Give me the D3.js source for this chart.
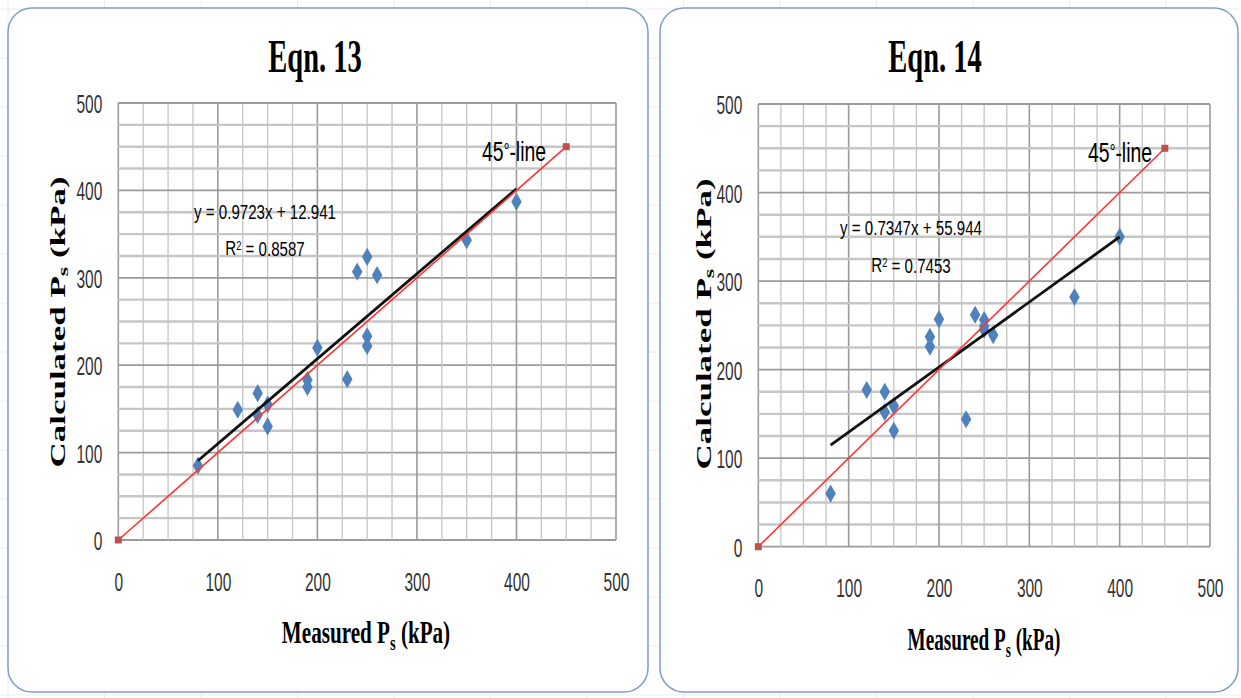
<!DOCTYPE html>
<html>
<head>
<meta charset="utf-8">
<script src="https://cdn.jsdelivr.net/npm/d3@7"></script>
<style>
  html, body { margin: 0; padding: 0; background: #fff; }
  svg { display: block; }
</style>
</head>
<body>
<div id="chart"></div>
<script>
// measured vs calculated Ps (kPa)
const measured   = [80, 120, 140, 140, 150, 150, 190, 190, 200, 230, 240, 250, 250, 250, 260, 350, 400];
const calcEqn13  = [85, 149, 168, 143, 155, 130, 183, 175, 220, 184, 307, 324, 233, 222, 303, 343, 387];
const calcEqn14  = [60, 177, 175, 152, 159, 131, 237, 226, 257, 144, 262, 256, 249, 245, 239, 282, 350];

// excel linear trendlines
const trend13 = { slope: 0.9723, intercept: 12.941, r2: '0.8587' };
const trend14 = { slope: 0.7347, intercept: 55.944, r2: '0.7453' };

const line45 = [0, 450];
const tickValues = [0, 100, 200, 300, 400, 500];
const minorStep = 25;

const W = 1241, H = 698;
const svg = d3.select('#chart').append('svg').attr('width', W).attr('height', H);

// faint spreadsheet cells behind the chart objects
const bg = svg.append('g');
d3.range(8, 1240, 96.5).forEach(x => bg.append('line').attr('x1', x).attr('x2', x).attr('y1', 0).attr('y2', H).attr('stroke', '#ececec'));
d3.range(9, H, 49).forEach(y => bg.append('line').attr('x1', 0).attr('x2', 1240).attr('y1', y).attr('y2', y).attr('stroke', '#ececec'));

// helper: horizontally squeezed text (source picture is compressed sideways)
function label(parent, x, y, sx, opts) {
  const g = parent.append('g').attr('transform', `translate(${x},${y}) scale(${sx},1)`);
  const t = g.append('text')
    .attr('text-anchor', opts.anchor || 'middle')
    .style('font-family', opts.family)
    .style('font-size', opts.size + 'px')
    .style('font-weight', opts.weight || 'normal')
    .attr('fill', opts.fill || '#000');
  return t;
}

const serif = '"Liberation Serif", "Times New Roman", serif';
const sans = '"Liberation Sans", Arial, sans-serif';

const panels = [
  {
    title: 'Eqn. 13', calc: calcEqn13, trend: trend13,
    box: { x: 8, y: 8, w: 640, h: 684 },
    plot: { l: 118.3, r: 616, t: 103, b: 540 },
    titleX: 315, ylabX: 57, ylabY: 322, xlabX: 366, xlabY: 643, xlabS: 0.66,
    eqX: 265, eqY: 212, r2Y: 248, tagX: 482, tagY: 152
  },
  {
    title: 'Eqn. 14', calc: calcEqn14, trend: trend14,
    box: { x: 660, y: 8, w: 578, h: 684 },
    plot: { l: 758.3, r: 1210, t: 104, b: 546.7 },
    titleX: 935, ylabX: 703, ylabY: 324, xlabX: 984, xlabY: 650, xlabS: 0.6,
    eqX: 911, eqY: 228, r2Y: 265, tagX: 1088, tagY: 153
  }
];

panels.forEach(p => {
  const g = svg.append('g');

  g.append('rect')
    .attr('x', p.box.x).attr('y', p.box.y)
    .attr('width', p.box.w).attr('height', p.box.h)
    .attr('rx', 24).attr('ry', 24)
    .attr('fill', '#fff')
    .attr('stroke', '#7f9dc9').attr('stroke-width', 1.5);

  const x = d3.scaleLinear().domain([0, 500]).range([p.plot.l, p.plot.r]);
  const y = d3.scaleLinear().domain([0, 500]).range([p.plot.b, p.plot.t]);

  // grid
  const grid = g.append('g');
  d3.range(0, 501, minorStep).forEach(v => {
    const major = v % 100 === 0;
    grid.append('line')
      .attr('x1', x(v)).attr('x2', x(v)).attr('y1', y(0)).attr('y2', y(500))
      .attr('stroke', major ? '#9b9b9b' : '#c4c4c4')
      .attr('stroke-width', major ? 1.6 : 1.3);
    grid.append('line')
      .attr('x1', x(0)).attr('x2', x(500)).attr('y1', y(v)).attr('y2', y(v))
      .attr('stroke', major ? '#9b9b9b' : '#c6c6c6')
      .attr('stroke-width', major ? 1.8 : 2.4);
  });

  // axes (labels only)
  const tickSx = 0.62;
  const gx = g.append('g').attr('transform', `translate(0,${p.plot.b})`)
    .call(d3.axisBottom(x).tickValues(tickValues).tickSize(0).tickPadding(33));
  const gy = g.append('g').attr('transform', `translate(${p.plot.l},0)`)
    .call(d3.axisLeft(y).tickValues(tickValues).tickSize(0));
  [gx, gy].forEach(a => {
    a.select('.domain').remove();
    a.selectAll('text')
      .style('font-family', sans).style('font-size', '25px')
      .attr('fill', '#333')
      .attr('transform', `scale(${tickSx},1)`);
  });
  gy.selectAll('text').attr('x', -16 / tickSx).attr('dy', '0.38em');

  // points
  const sym = d3.symbol().type(d3.symbolDiamond).size(95);
  g.append('g').selectAll('path')
    .data(measured.map((m, i) => [m, p.calc[i]]))
    .join('path')
    .attr('d', sym)
    .attr('transform', d => `translate(${x(d[0])},${y(d[1])})`)
    .attr('fill', '#4f81bd');

  // trendline
  const xr = d3.extent(measured);
  g.append('path')
    .datum(xr.map(v => [v, p.trend.slope * v + p.trend.intercept]))
    .attr('d', d3.line().x(d => x(d[0])).y(d => y(d[1])))
    .attr('stroke', '#111').attr('stroke-width', 2.8).attr('fill', 'none');

  // 45 degree line
  g.append('path')
    .datum(line45.map(v => [v, v]))
    .attr('d', d3.line().x(d => x(d[0])).y(d => y(d[1])))
    .attr('stroke', '#ff3333').attr('stroke-width', 1.6).attr('fill', 'none');
  g.append('g').selectAll('rect')
    .data(line45)
    .join('rect')
    .attr('x', d => x(d) - 3.5).attr('y', d => y(d) - 3.5)
    .attr('width', 7).attr('height', 7)
    .attr('fill', '#c0504d');

  // texts
  label(g, p.titleX, 72, 0.62, { family: serif, size: 46, weight: 'bold' }).text(p.title);

  const yl = g.append('g').attr('transform', `translate(${p.ylabX},${p.ylabY}) scale(0.62,1) rotate(-90)`)
    .append('text').attr('text-anchor', 'middle').attr('dy', '0.35em')
    .style('font-family', serif).style('font-size', '35px').style('font-weight', 'bold');
  yl.append('tspan').text('Calculated  P');
  yl.append('tspan').attr('dy', '0.25em').style('font-size', '24px').text('s');
  yl.append('tspan').attr('dy', '-0.17em').text(' (kPa)');

  const xl = label(g, p.xlabX, p.xlabY, p.xlabS, { family: serif, size: 32, weight: 'bold' });
  xl.append('tspan').text('Measured P');
  xl.append('tspan').attr('dy', '0.3em').style('font-size', '22px').text('s');
  xl.append('tspan').attr('dy', '-0.2em').text(' (kPa)');

  label(g, p.eqX, p.eqY, 0.72, { family: sans, size: 21 }).attr('dy', '0.35em')
    .text(`y = ${p.trend.slope}x + ${p.trend.intercept}`);
  const r2 = label(g, p.eqX, p.r2Y, 0.72, { family: sans, size: 21 }).attr('dy', '0.35em');
  r2.append('tspan').text('R');
  r2.append('tspan').attr('dy', '-0.45em').style('font-size', '13px').text('2');
  r2.append('tspan').attr('dy', '0.3em').text(` = ${p.trend.r2}`);

  const tag = label(g, p.tagX, p.tagY, 0.72, { family: sans, size: 27, anchor: 'start' }).attr('dy', '0.35em');
  tag.append('tspan').text('45');
  tag.append('tspan').attr('dy', '-0.15em').style('font-size', '20px').text('°');
  tag.append('tspan').attr('dy', '0.1em').text('-line');
});
</script>
</body>
</html>
